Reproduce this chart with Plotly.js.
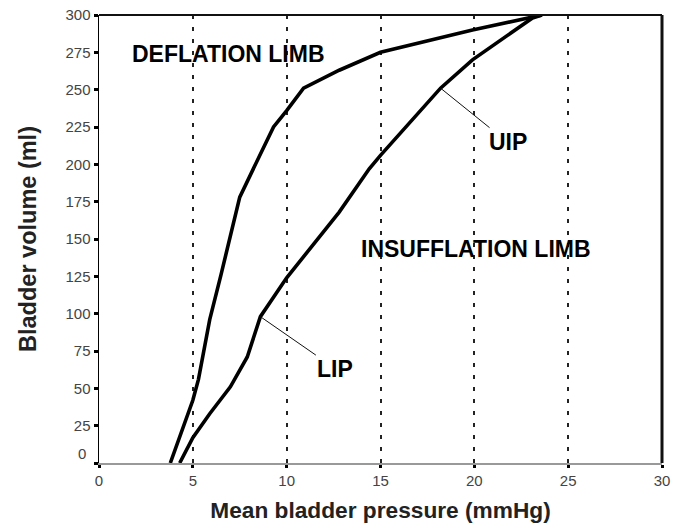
<!DOCTYPE html>
<html>
<head>
<meta charset="utf-8">
<script src="https://cdn.plot.ly/plotly-3.0.1.min.js"></script>
<style>html,body{margin:0;padding:0;background:#fff;}#chart{width:685px;height:528px;}</style>
</head>
<body>
<div id="chart"></div>
<script>
// Deflation limb (pressure mmHg, volume ml)
const deflationPressure = [3.8, 5.0, 5.3, 5.9, 6.5, 7.5, 8.3, 9.3, 10.0, 10.9, 12.8, 15.0, 19.9, 23.6];
const deflationVolume   = [0,   42,  56,  96,  126, 178, 199, 225, 236, 251, 263, 275, 290, 300];
// Insufflation limb
const insufflationPressure = [4.3, 5.0, 5.9, 7.0, 7.9, 8.6, 10.0, 12.8, 14.4, 15.0, 18.2, 19.9, 23.1, 23.6];
const insufflationVolume   = [0,   17,  33,  51,  71,  98,  124,  168,  197,  206,  251,  270,  298,  300];

const xTicks = [0, 5, 10, 15, 20, 25, 30];
const yTicks = [0, 25, 50, 75, 100, 125, 150, 175, 200, 225, 250, 275, 300];

// Labelled points
const lipPoint = {x: 8.6, y: 98, text: 'LIP'};
const uipPoint = {x: 18.2, y: 251, text: 'UIP'};
const limbLabels = [
  {x: 6.9, y: 274, text: 'DEFLATION LIMB'},
  {x: 20.1, y: 143, text: 'INSUFFLATION LIMB'}
];

const FONT = 'Liberation Sans, Arial, sans-serif';

const traces = [
  {x: deflationPressure, y: deflationVolume, mode: 'lines', line: {color: '#000', width: 3.6}, hoverinfo: 'skip', showlegend: false},
  {x: insufflationPressure, y: insufflationVolume, mode: 'lines', line: {color: '#000', width: 3.6}, hoverinfo: 'skip', showlegend: false}
];

const annotations = limbLabels.map(l => ({
  x: l.x, y: l.y, xref: 'x', yref: 'y', text: l.text, showarrow: false,
  font: {family: FONT, size: 23, color: '#000', weight: 'bold'}
}));
annotations.push({
  x: uipPoint.x, y: uipPoint.y, xref: 'x', yref: 'y', text: uipPoint.text,
  showarrow: true, arrowhead: 0, arrowwidth: 1, arrowcolor: '#111', ax: 67, ay: 54,
  font: {family: FONT, size: 23, color: '#000', weight: 'bold'}
});
annotations.push({
  x: lipPoint.x, y: lipPoint.y, xref: 'x', yref: 'y', text: lipPoint.text,
  showarrow: true, arrowhead: 0, arrowwidth: 1, arrowcolor: '#111', ax: 75, ay: 52,
  font: {family: FONT, size: 23, color: '#000', weight: 'bold'}
});
// the "0" label of the volume axis sits slightly above its tick in the reference
annotations.push({
  x: 0, y: yTicks[0], xref: 'paper', yref: 'y', text: String(yTicks[0]), showarrow: false,
  xanchor: 'right', yanchor: 'middle', xshift: -11, yshift: 10,
  font: {family: FONT, size: 15, color: '#444'}
});

const layout = {
  width: 685, height: 528,
  margin: {l: 99, r: 23, t: 15, b: 65, pad: 0},
  paper_bgcolor: '#fff', plot_bgcolor: '#fff',
  showlegend: false,
  xaxis: {
    range: [0, 30], tickvals: xTicks, ticktext: xTicks.map(String),
    showgrid: true, gridcolor: '#222', gridwidth: 2, griddash: '4px,8px',
    zeroline: false, showline: true, linecolor: '#999', linewidth: 1.5,
    ticks: 'outside', ticklen: 3, tickwidth: 3, tickcolor: '#000',
    tickfont: {family: FONT, size: 15, color: '#444'},
    title: {text: 'Mean bladder pressure (mmHg)', font: {family: FONT, size: 22.7, color: '#222', weight: 'bold'}, standoff: 14},
    automargin: false, fixedrange: true
  },
  yaxis: {
    range: [0, 300], tickvals: yTicks, ticktext: yTicks.map(v => v === 0 ? '' : String(v)),
    showgrid: false, zeroline: false, showline: true, linecolor: '#000', linewidth: 1.5,
    ticks: 'outside', ticklen: 4, tickwidth: 3, tickcolor: '#000',
    tickfont: {family: FONT, size: 15, color: '#444'},
    title: {text: 'Bladder volume (ml)', font: {family: FONT, size: 23.5, color: '#222', weight: 'bold'}, standoff: 22},
    automargin: false, fixedrange: true
  },
  shapes: [
    {type: 'line', xref: 'paper', yref: 'paper', x0: 0, x1: 1, y0: 1, y1: 1, line: {color: '#111', width: 2}},
    {type: 'line', xref: 'paper', yref: 'paper', x0: 1, x1: 1, y0: 0, y1: 1, line: {color: '#111', width: 3}}
  ],
  annotations: annotations
};

Plotly.newPlot('chart', traces, layout, {displayModeBar: false, staticPlot: true});
</script>
</body>
</html>
